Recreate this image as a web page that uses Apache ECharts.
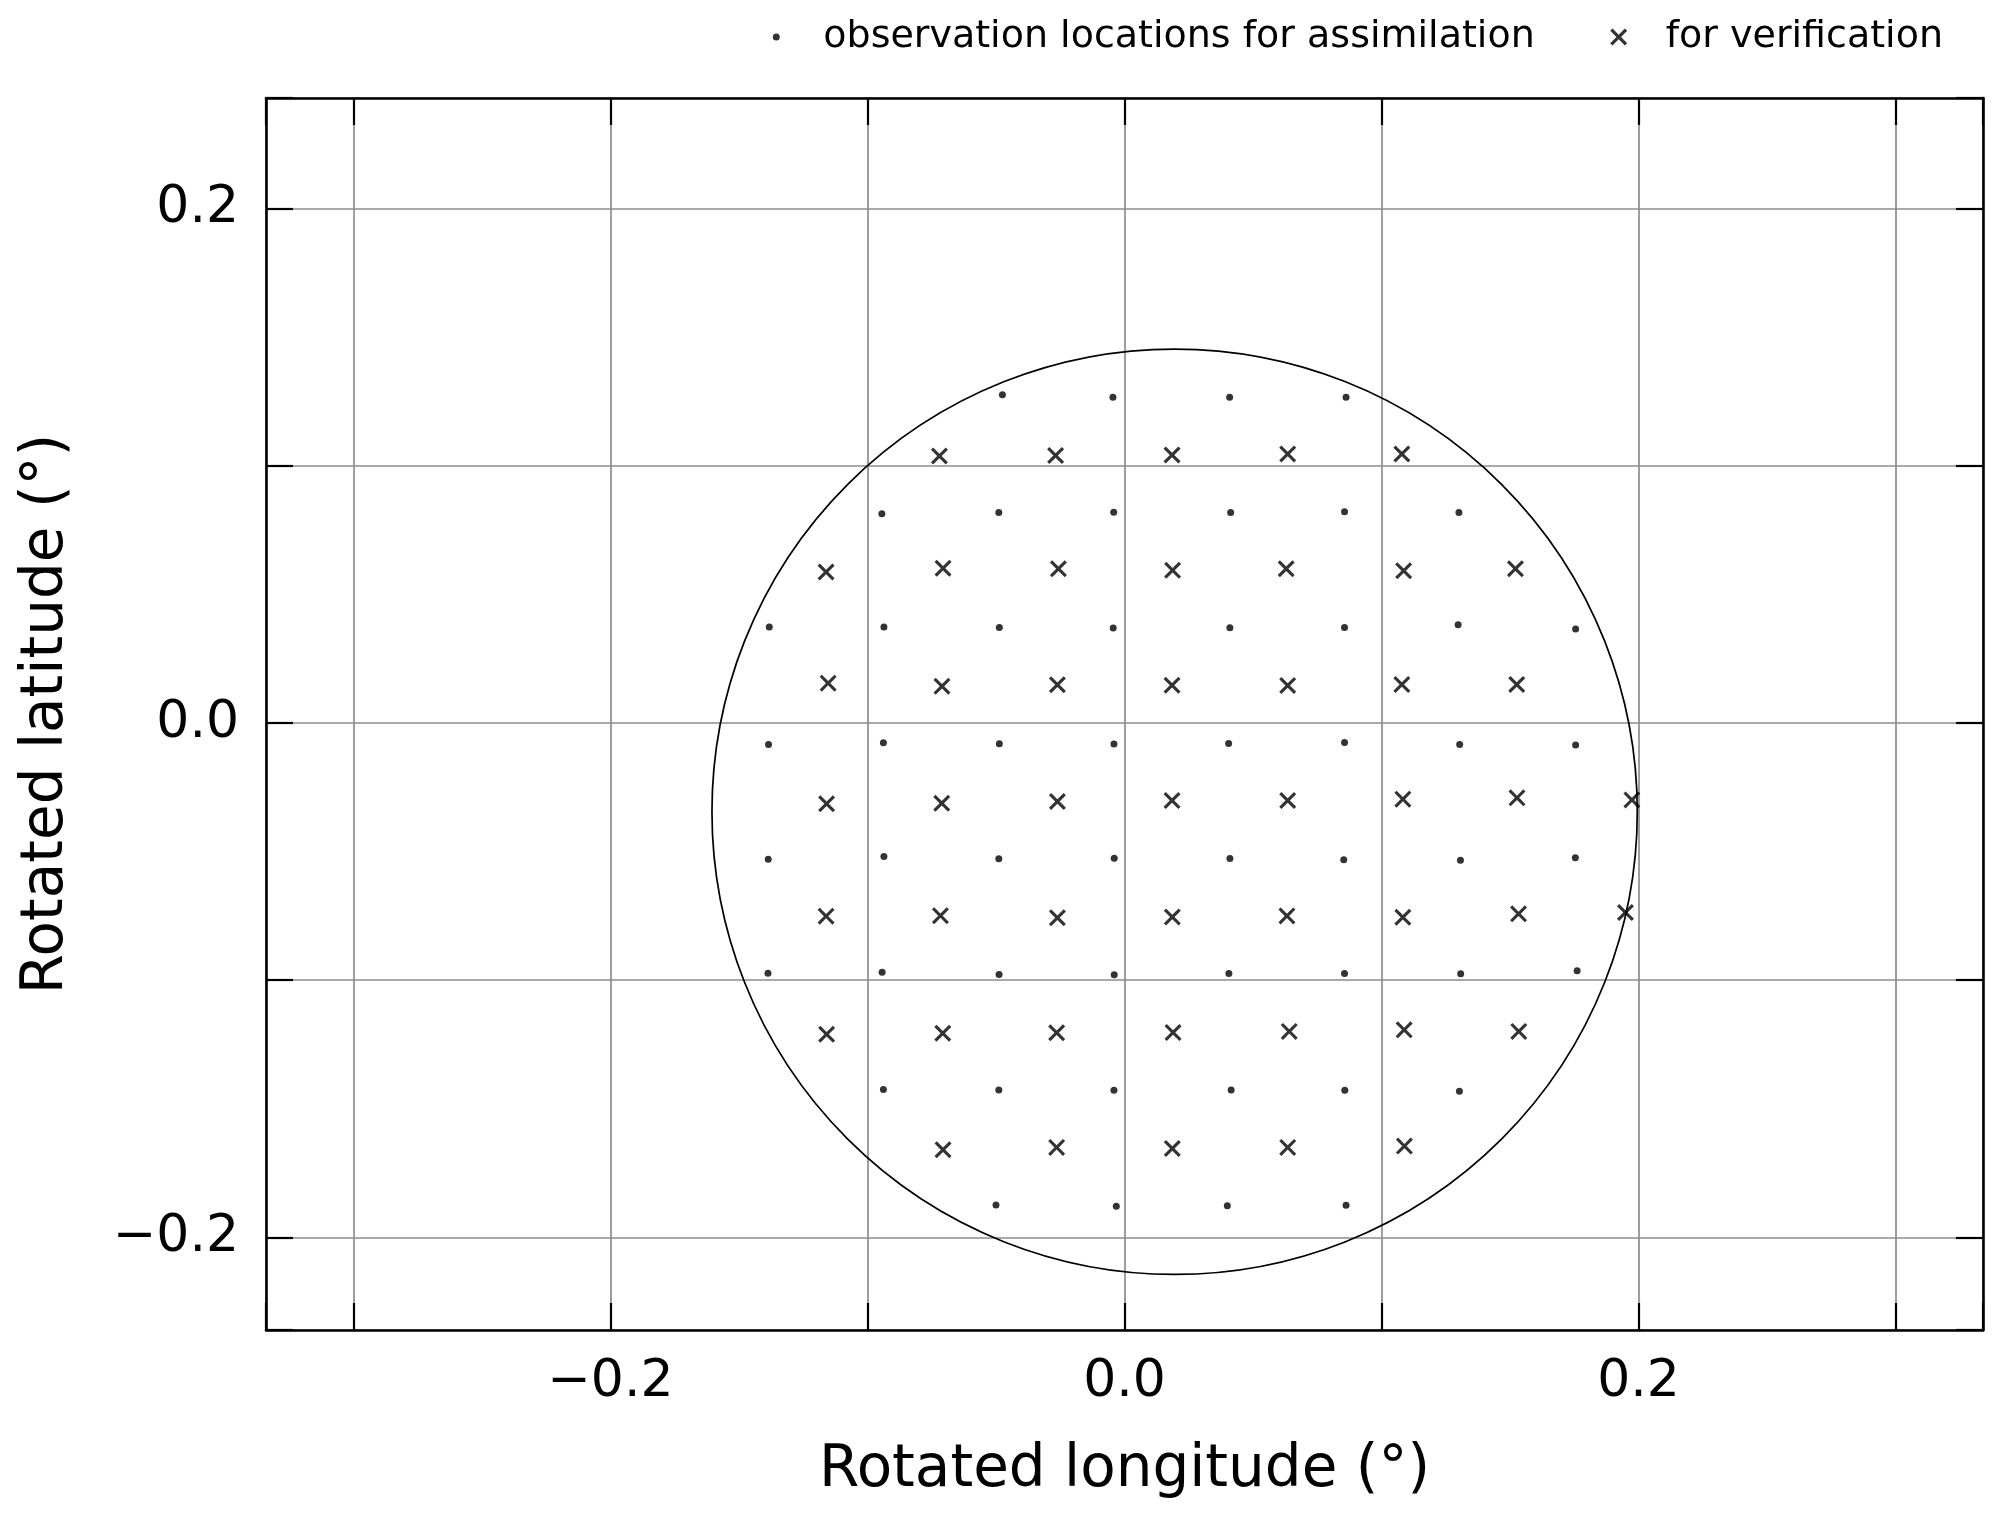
<!DOCTYPE html>
<html>
<head>
<meta charset="utf-8">
<title>Observation locations</title>
<script src="https://cdn.jsdelivr.net/npm/echarts@6/dist/echarts.min.js"></script>
<style>
    html, body { margin: 0; padding: 0; background: #fff; }
    #chart { width: 2000px; height: 1524px; }
</style>
</head>
<body>
<div id="chart"></div>
<script>
// rotated lon/lat of the assimilated observations (dots)
var assimilationPoints = [
    [-0.0475, 0.1276], [-0.0045, 0.1267], [0.0409, 0.1267], [0.0862, 0.1267],
    [-0.0944, 0.0814], [-0.0489, 0.0818], [-0.0042, 0.0819], [0.0413, 0.0818], [0.0856, 0.0821], [0.1301, 0.0818],
    [-0.1382, 0.0373], [-0.0936, 0.0373], [-0.0487, 0.0371], [-0.0044, 0.0369], [0.0410, 0.0370], [0.0856, 0.0371], [0.1298, 0.0382], [0.1755, 0.0365],
    [-0.1385, -0.0084], [-0.0938, -0.0077], [-0.0487, -0.0081], [-0.0041, -0.0082], [0.0405, -0.0080], [0.0856, -0.0076], [0.1304, -0.0084], [0.1755, -0.0086],
    [-0.1386, -0.0530], [-0.0936, -0.0519], [-0.0489, -0.0528], [-0.0040, -0.0526], [0.0410, -0.0527], [0.0853, -0.0532], [0.1307, -0.0534], [0.1754, -0.0524],
    [-0.1387, -0.0973], [-0.0943, -0.0969], [-0.0488, -0.0978], [-0.0040, -0.0979], [0.0406, -0.0974], [0.0856, -0.0974], [0.1308, -0.0975], [0.1761, -0.0963],
    [-0.0938, -0.1425], [-0.0489, -0.1427], [-0.0041, -0.1428], [0.0415, -0.1427], [0.0857, -0.1428], [0.1303, -0.1432],
    [-0.0500, -0.1874], [-0.0032, -0.1879], [0.0400, -0.1877], [0.0862, -0.1875]
];

// rotated lon/lat of the verification observations (crosses)
var verificationPoints = [
    [-0.0720, 0.1038], [-0.0268, 0.1040], [0.0185, 0.1042], [0.0635, 0.1046], [0.1079, 0.1046],
    [-0.1161, 0.0587], [-0.0706, 0.0602], [-0.0257, 0.0600], [0.0187, 0.0594], [0.0629, 0.0600], [0.1086, 0.0592], [0.1521, 0.0600],
    [-0.1153, 0.0155], [-0.0710, 0.0143], [-0.0261, 0.0149], [0.0185, 0.0147], [0.0635, 0.0146], [0.1079, 0.0150], [0.1526, 0.0150],
    [-0.1159, -0.0314], [-0.0711, -0.0312], [-0.0261, -0.0305], [0.0185, -0.0301], [0.0635, -0.0301], [0.1083, -0.0296], [0.1527, -0.0291], [0.1974, -0.0299],
    [-0.1161, -0.0751], [-0.0716, -0.0749], [-0.0261, -0.0757], [0.0186, -0.0754], [0.0632, -0.0750], [0.1083, -0.0755], [0.1533, -0.0742], [0.1949, -0.0737],
    [-0.1159, -0.1210], [-0.0707, -0.1206], [-0.0264, -0.1204], [0.0189, -0.1203], [0.0641, -0.1199], [0.1088, -0.1193], [0.1534, -0.1199],
    [-0.0706, -0.1659], [-0.0264, -0.1650], [0.0186, -0.1654], [0.0635, -0.1650], [0.1089, -0.1645]
];

// domain boundary: centre lon, centre lat, radius (degrees)
var domainCircle = [[0.0195, -0.0345, 0.18]];

var lonRange = [-0.334, 0.334];
var latRange = [-0.236, 0.243];
var labelTicks = [-0.2, 0.0, 0.2];
var seriesNames = ['observation locations for assimilation', 'for verification'];

var FONT = '"DejaVu Sans", sans-serif';
// filled x-shaped glyph so the stroke weight does not depend on symbol scaling
var CROSS = 'path://M0,13L13,0L50,37L87,0L100,13L63,50L100,87L87,100L50,63L13,100L0,87L37,50Z';
// same glyphs padded inside a 40x40 box for the legend
var LEGEND_DOT = 'path://M0,0M40,40M16.5,20A3.5,3.5 0 1 1 23.5,20A3.5,3.5 0 1 1 16.5,20Z';
var LEGEND_CROSS = 'path://M0,0M40,40M11.5,13.8L13.8,11.5L20,17.7L26.2,11.5L28.5,13.8L22.3,20L28.5,26.2L26.2,28.5L20,22.3L13.8,28.5L11.5,26.2L17.7,20Z';

function tickLabel(v) {
    for (var i = 0; i < labelTicks.length; i++) {
        if (Math.abs(v - labelTicks[i]) < 1e-6) {
            return labelTicks[i].toFixed(1).replace('-', '\u2212');
        }
    }
    return '';
}

function axisBase(min, max) {
    return {
        type: 'value',
        min: min,
        max: max,
        minInterval: 0.1,
        maxInterval: 0.1,
        axisLine: { show: true, onZero: false, lineStyle: { color: '#000', width: 2.6 } },
        axisTick: { show: true, inside: true, length: 27, lineStyle: { color: '#000', width: 2.2 } }
    };
}

var xMain = axisBase(lonRange[0], lonRange[1]);
xMain.position = 'bottom';
xMain.name = 'Rotated longitude (\u00b0)';
xMain.nameLocation = 'middle';
xMain.nameGap = 112;
xMain.nameTextStyle = { fontFamily: FONT, fontSize: 58, color: '#000' };
xMain.axisLabel = { show: true, margin: 26, fontFamily: FONT, fontSize: 52, color: '#000', formatter: tickLabel };
xMain.splitLine = { show: true, lineStyle: { color: '#8c8c8c', width: 1.7 } };

var xTop = axisBase(lonRange[0], lonRange[1]);
xTop.position = 'top';
xTop.axisLabel = { show: false };
xTop.splitLine = { show: false };

var yMain = axisBase(latRange[0], latRange[1]);
yMain.position = 'left';
yMain.name = 'Rotated latitude (\u00b0)';
yMain.nameLocation = 'middle';
yMain.nameGap = 190;
yMain.nameTextStyle = { fontFamily: FONT, fontSize: 58, color: '#000' };
yMain.axisLabel = { show: true, margin: 27, fontFamily: FONT, fontSize: 52, color: '#000', formatter: tickLabel };
yMain.splitLine = { show: true, lineStyle: { color: '#8c8c8c', width: 1.7 } };

var yRight = axisBase(latRange[0], latRange[1]);
yRight.position = 'right';
yRight.axisLabel = { show: false };
yRight.splitLine = { show: false };

var chart = echarts.init(document.getElementById('chart'), null, { renderer: 'canvas' });

chart.setOption({
    backgroundColor: '#fff',
    animation: false,
    textStyle: { fontFamily: FONT },
    grid: { left: 266, right: 17, top: 98, bottom: 194, containLabel: false },
    legend: {
        right: 52,
        top: 12,
        itemWidth: 40,
        itemHeight: 40,
        itemGap: 64,
        textStyle: { fontFamily: FONT, fontSize: 38, color: '#000', padding: [0, 0, 0, 22] },
        data: [
            { name: seriesNames[0], icon: LEGEND_DOT },
            { name: seriesNames[1], icon: LEGEND_CROSS }
        ]
    },
    xAxis: [xMain, xTop],
    yAxis: [yMain, yRight],
    series: [
        {
            name: 'domain',
            type: 'custom',
            xAxisIndex: 0,
            yAxisIndex: 0,
            data: domainCircle,
            z: 3,
            silent: true,
            renderItem: function (params, api) {
                var c = api.coord([api.value(0), api.value(1)]);
                var r = api.size([api.value(2), 0])[0];
                return {
                    type: 'circle',
                    shape: { cx: c[0], cy: c[1], r: r },
                    style: { fill: 'none', stroke: '#000', lineWidth: 1.7 }
                };
            }
        },
        {
            name: seriesNames[0],
            type: 'scatter',
            data: assimilationPoints,
            symbol: 'circle',
            symbolSize: 7,
            z: 4,
            itemStyle: { color: '#000' }
        },
        {
            name: seriesNames[1],
            type: 'scatter',
            data: verificationPoints,
            symbol: CROSS,
            symbolSize: 17,
            z: 4,
            itemStyle: { color: '#000' }
        }
    ]
});

window.addEventListener('resize', function () {
    chart.resize();
});
</script>
</body>
</html>
